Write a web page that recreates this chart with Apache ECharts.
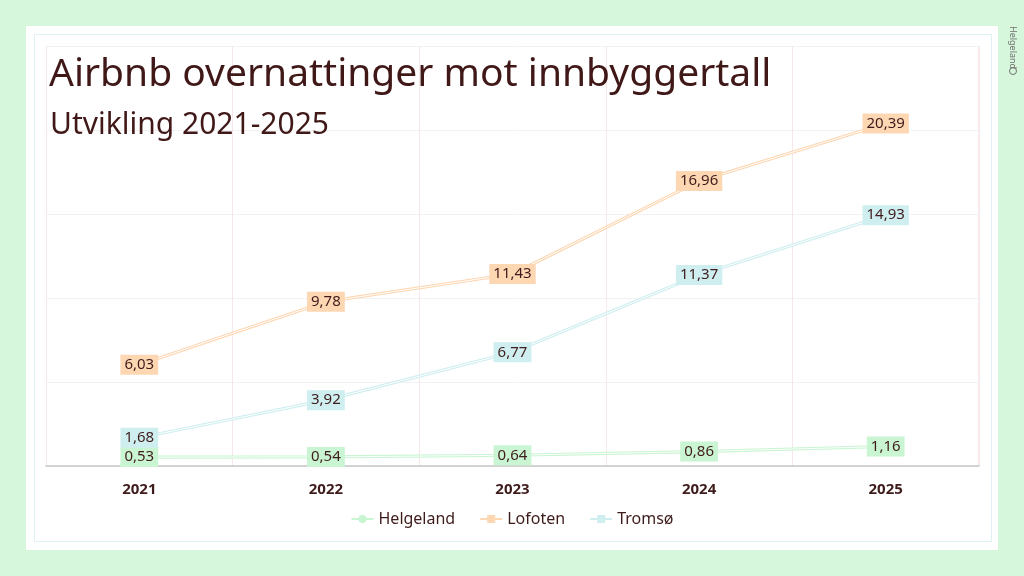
<!DOCTYPE html>
<html><head><meta charset="utf-8">
<script src="https://cdn.jsdelivr.net/npm/echarts@6/dist/echarts.min.js"></script>
<style>html,body{margin:0;padding:0;background:#d6f7dc;}#c{width:1024px;height:576px;}</style>
</head><body><div id="c"></div>
<script>
const years = ['2021','2022','2023','2024','2025'];
const helgeland = [0.53, 0.54, 0.64, 0.86, 1.16];
const lofoten = [6.03, 9.78, 11.43, 16.96, 20.39];
const tromso = [1.68, 3.92, 6.77, 11.37, 14.93];
const seriesNames = ['Helgeland','Lofoten','Tromsø'];
const colors = ['#c9f5d2','#fdd6b2','#cfeef0'];
const markers = ['circle','rect','rect'];
const dataSets = [helgeland, lofoten, tromso];
const textColor = '#3f1c1c';
const font = '"Noto Sans", Inter, sans-serif';

const series = [];
dataSets.forEach((d, i) => {
  series.push({
    name: seriesNames[i], type: 'line', data: d, z: 10 + i * 2,
    symbol: markers[i], symbolSize: 7, showSymbol: true,
    itemStyle: {color: colors[i]},
    lineStyle: {color: colors[i], width: 3.2},
    label: {show: false}
  });
  series.push({
    name: seriesNames[i] + '_inner', type: 'line', data: d, z: 11 + i * 2,
    symbol: 'circle', symbolSize: 1, showSymbol: true, silent: true,
    itemStyle: {color: 'rgba(0,0,0,0)'},
    lineStyle: {color: '#ffffff', width: 1},
    label: {show: true, position: 'inside', formatter: p => p.value.toFixed(2).replace('.', ','),
      color: textColor, fontSize: 15, fontFamily: font,
      backgroundColor: colors[i], padding: [3, 4, 2, 4]},
    labelLayout: {hideOverlap: false},
    tooltip: {show: false}
  });
});

const chart = echarts.init(document.getElementById('c'));
chart.setOption({
  backgroundColor: '#d6f7dc',
  animation: false,
  graphic: [
    {type: 'rect', shape: {x: 26, y: 26, width: 972, height: 524}, style: {fill: '#ffffff'}, z: -10},
    {type: 'rect', shape: {x: 34.5, y: 34.5, width: 957, height: 507}, style: {fill: 'none', stroke: '#dff1f4', lineWidth: 1}, z: -9},
    {type: 'rect', shape: {x: 46.5, y: 46.5, width: 932, height: 420}, style: {fill: 'none', stroke: '#f6ecec', lineWidth: 1}, z: -8},
    {type: 'text', left: 49, top: 55, style: {text: 'Airbnb overnattinger mot innbyggertall', fill: '#401818', font: '39px ' + font}, z: 100},
    {type: 'text', left: 50, top: 110, style: {text: 'Utvikling 2021-2025', fill: '#401818', font: '30px ' + font}, z: 100},
    {type: 'text', x: 1013, y: 26, rotation: -Math.PI / 2, style: {x: 0, y: 0, text: 'Helgeland', fill: '#707070', font: '9px ' + font, textAlign: 'left', textVerticalAlign: 'middle'}, z: 100},
    {type: 'circle', shape: {cx: 1013, cy: 71, r: 3.5}, style: {fill: 'none', stroke: '#707070', lineWidth: 1}, z: 100}
  ],
  legend: {
    data: seriesNames,
    bottom: 44, left: 'center', itemWidth: 22, itemHeight: 10, itemGap: 24,
    textStyle: {color: textColor, fontSize: 16, fontFamily: font}
  },
  grid: {left: 46, right: 45, top: 46, bottom: 110, containLabel: false},
  xAxis: {
    type: 'category', data: years, boundaryGap: true,
    axisLine: {lineStyle: {color: '#c6c6c6', width: 1.5}},
    axisTick: {show: false},
    axisLabel: {color: textColor, fontWeight: 'bold', fontSize: 15, margin: 16, fontFamily: font},
    splitLine: {show: true, lineStyle: {color: '#f6e8e8', width: 1}}
  },
  yAxis: {
    type: 'value', min: 0, max: 25, interval: 5,
    axisLabel: {show: false}, axisLine: {show: false}, axisTick: {show: false},
    splitLine: {lineStyle: {color: '#f2f2f2', width: 1}}
  },
  series: series
});
</script></body></html>
